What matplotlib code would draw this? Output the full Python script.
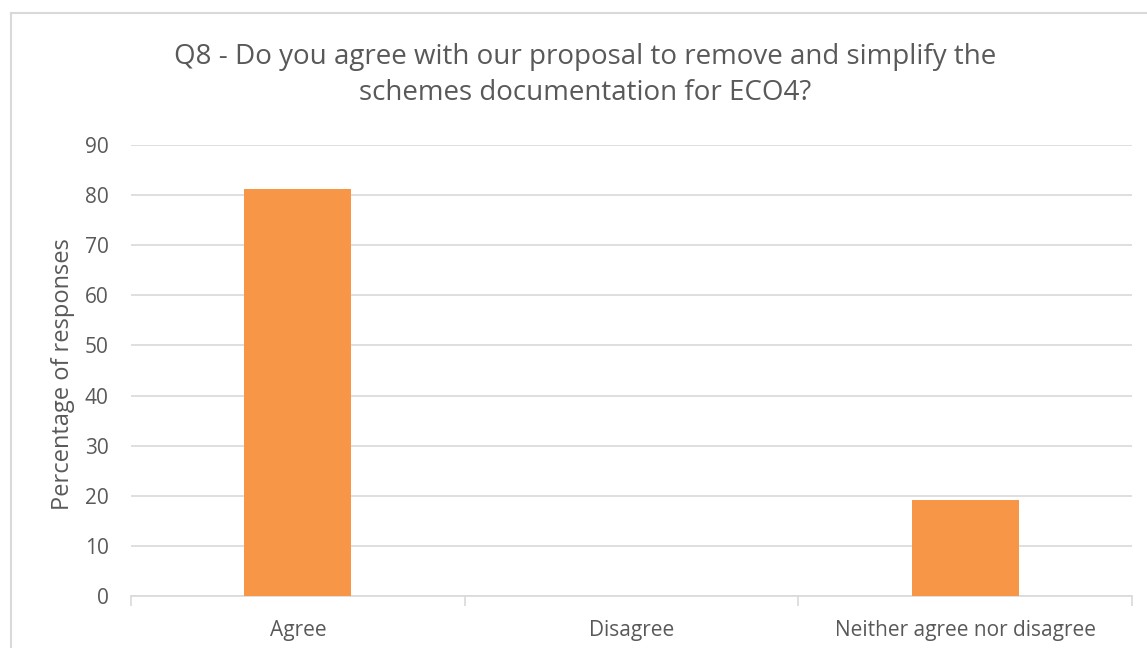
import matplotlib
matplotlib.use("Agg")
import matplotlib.pyplot as plt
from matplotlib.lines import Line2D

categories = ["Agree", "Disagree", "Neither agree nor disagree"]
percentages = [81.2, 0.0, 19.1]
y_ticks = [0, 10, 20, 30, 40, 50, 60, 70, 80, 90]

title = "Q8 - Do you agree with our proposal to remove and simplify the\nschemes documentation for ECO4?"
y_label = "Percentage of responses"

plt.rcParams["font.family"] = ["Open Sans", "DejaVu Sans"]

bar_color = "#F79646"
grid_color = "#D9D9D9"
text_color = "#595959"

fig = plt.figure(figsize=(11.47, 6.48), dpi=100)
fig.patch.set_facecolor("white")

# chart frame: top and left edges only
fig.add_artist(Line2D([11 / 1147, 11 / 1147], [0, 1 - 13 / 648], transform=fig.transFigure,
                      color=grid_color, lw=1.5))
fig.add_artist(Line2D([11 / 1147, 1], [1 - 13 / 648, 1 - 13 / 648], transform=fig.transFigure,
                      color=grid_color, lw=1.5))

ax = fig.add_axes([131 / 1147, 52 / 648, 1001 / 1147, 451 / 648])
x = range(len(categories))
ax.bar(x, percentages, width=0.32, color=bar_color, zorder=3)

ax.set_xlim(-0.5, len(categories) - 0.5)
ax.set_ylim(0, 90)
ax.set_yticks(y_ticks)
ax.set_xticks(list(x))
ax.set_xticklabels(categories)
ax.yaxis.grid(True, color=grid_color, lw=1.2, zorder=0)
ax.set_axisbelow(True)

for side in ["top", "right", "left"]:
    ax.spines[side].set_visible(False)
ax.spines["bottom"].set_color(grid_color)
ax.spines["bottom"].set_linewidth(1.2)

# category separators below the baseline
ax.set_xticks([-0.5, 0.5, 1.5, 2.5], minor=True)
ax.tick_params(axis="x", which="minor", length=7, color=grid_color, width=1.2)
ax.tick_params(axis="x", which="major", length=0, pad=17, labelsize=15, labelcolor=text_color)
ax.tick_params(axis="y", length=0, pad=16, labelsize=15, labelcolor=text_color)

ax.set_ylabel(y_label, fontsize=17, color=text_color)
ax.yaxis.set_label_coords(-56 / 1001, 0.493)

fig.text(585 / 1147, 1 - 75 / 648, title, ha="center", va="center", fontsize=20,
         color=text_color, linespacing=1.39)

fig.savefig("out.png", dpi=100)
